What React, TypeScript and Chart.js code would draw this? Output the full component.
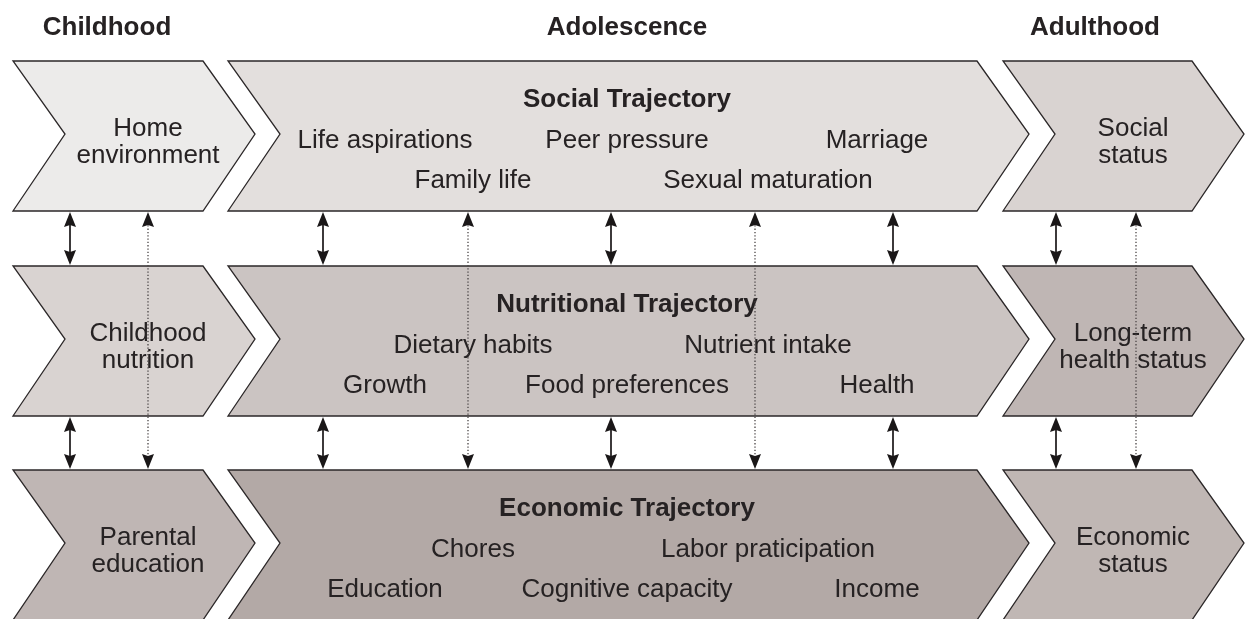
import React, { useEffect, useRef } from "react";
import { Chart, registerables } from "chart.js";

Chart.register(...registerables);

// ---- content ----
const stages = ["Childhood", "Adolescence", "Adulthood"];
const trajectories = ["Social Trajectory", "Nutritional Trajectory", "Economic Trajectory"];
const childhoodLabels = [
  ["Home", "environment"],
  ["Childhood", "nutrition"],
  ["Parental", "education"],
];
const adulthoodLabels = [
  ["Social", "status"],
  ["Long-term", "health status"],
  ["Economic", "status"],
];
const socialFactorsA = ["Life aspirations", "Peer pressure", "Marriage"];
const socialFactorsB = ["Family life", "Sexual maturation"];
const nutritionFactorsA = ["Dietary habits", "Nutrient intake"];
const nutritionFactorsB = ["Growth", "Food preferences", "Health"];
const economicFactorsA = ["Chores", "Labor praticipation"];
const economicFactorsB = ["Education", "Cognitive capacity", "Income"];

// ---- layout (diagram coordinates, mapped through the chart scales) ----
const W = 1245;
const H = 619;
const stageCenterX = [107, 627, 1095];
const headerBaseline = 35;
const colLeft = [13, 228, 1003];
const colRight = [203, 977, 1192];
const chevronDepth = 52;
const rowTop = [61, 266, 470];
const rowHeight = 150;
const tipOffset = 73;
const sideLabelX = [148, 0, 1133];
const sideLine1 = 75;
const sideLine2 = 102;
const titleOffset = 46;
const lineAOffset = 87;
const lineBOffset = 127;
const threeItemX = [385, 627, 877];
const twoItemX = [473, 768];
const solidArrowX = [70, 323, 611, 893, 1056];
const dottedArrowX = [148, 468, 755, 1136];

const fills = [
  ["#ecebea", "#e3dfdd", "#d9d3d1"],
  ["#d9d3d1", "#cbc4c2", "#bfb6b4"],
  ["#bfb6b4", "#b3a9a6", "#c0b7b4"],
];
const FONT = "'Liberation Sans', Arial, Helvetica, sans-serif";
const TEXT = "#262223";

const diagramPlugin = {
  id: "diagram",
  afterDatasetsDraw(chart: any) {
    const ctx: CanvasRenderingContext2D = chart.ctx;
    const xs = chart.scales.x;
    const ys = chart.scales.y;
    const px = (v: number) => xs.getPixelForValue(v);
    const py = (v: number) => ys.getPixelForValue(v);

    ctx.save();
    // chevrons
    for (let r = 0; r < 3; r++) {
      for (let c = 0; c < 3; c++) {
        const t = rowTop[r];
        const b = t + rowHeight;
        const m = t + tipOffset;
        const l = colLeft[c];
        const rt = colRight[c];
        ctx.beginPath();
        ctx.moveTo(px(l), py(t));
        ctx.lineTo(px(rt), py(t));
        ctx.lineTo(px(rt + chevronDepth), py(m));
        ctx.lineTo(px(rt), py(b));
        ctx.lineTo(px(l), py(b));
        ctx.lineTo(px(l + chevronDepth), py(m));
        ctx.closePath();
        ctx.fillStyle = fills[r][c];
        ctx.fill();
        ctx.lineWidth = 1.3;
        ctx.strokeStyle = "#2b2728";
        ctx.lineJoin = "miter";
        ctx.stroke();
      }
    }

    // headers
    ctx.fillStyle = TEXT;
    ctx.textAlign = "center";
    ctx.textBaseline = "alphabetic";
    ctx.font = `bold 26px ${FONT}`;
    stages.forEach((s, i) => ctx.fillText(s, px(stageCenterX[i]), py(headerBaseline)));

    // trajectory titles
    trajectories.forEach((s, r) => ctx.fillText(s, px(stageCenterX[1]), py(rowTop[r] + titleOffset)));

    ctx.font = `26px ${FONT}`;
    // side labels
    for (let r = 0; r < 3; r++) {
      const t = rowTop[r];
      ctx.fillText(childhoodLabels[r][0], px(sideLabelX[0]), py(t + sideLine1));
      ctx.fillText(childhoodLabels[r][1], px(sideLabelX[0]), py(t + sideLine2));
      ctx.fillText(adulthoodLabels[r][0], px(sideLabelX[2]), py(t + sideLine1));
      ctx.fillText(adulthoodLabels[r][1], px(sideLabelX[2]), py(t + sideLine2));
    }

    // factor lines
    const lines: [string[], number, number][] = [
      [socialFactorsA, 0, lineAOffset],
      [socialFactorsB, 0, lineBOffset],
      [nutritionFactorsA, 1, lineAOffset],
      [nutritionFactorsB, 1, lineBOffset],
      [economicFactorsA, 2, lineAOffset],
      [economicFactorsB, 2, lineBOffset],
    ];
    lines.forEach(([items, r, off]) => {
      const xsPos = items.length === 3 ? threeItemX : twoItemX;
      items.forEach((s, i) => ctx.fillText(s, px(xsPos[i]), py(rowTop[r] + off)));
    });

    // arrows
    const head = (x: number, tipY: number, dir: number) => {
      const hl = 15;
      const hw = 6;
      ctx.beginPath();
      ctx.moveTo(px(x), py(tipY));
      ctx.lineTo(px(x - hw), py(tipY + dir * hl));
      ctx.lineTo(px(x), py(tipY + dir * (hl - 2)));
      ctx.lineTo(px(x + hw), py(tipY + dir * hl));
      ctx.closePath();
      ctx.fillStyle = "#1a1718";
      ctx.fill();
    };
    // solid double arrows in the gaps
    for (let g = 0; g < 2; g++) {
      const y1 = rowTop[g] + rowHeight + 1;
      const y2 = rowTop[g + 1] - 1;
      solidArrowX.forEach((x) => {
        ctx.beginPath();
        ctx.moveTo(px(x), py(y1 + 8));
        ctx.lineTo(px(x), py(y2 - 8));
        ctx.lineWidth = 1.7;
        ctx.strokeStyle = "#1a1718";
        ctx.setLineDash([]);
        ctx.stroke();
        head(x, y1, 1);
        head(x, y2, -1);
      });
    }
    // dotted arrows from top row to bottom row
    dottedArrowX.forEach((x) => {
      const y1 = rowTop[0] + rowHeight + 1;
      const y2 = rowTop[2] - 1;
      ctx.beginPath();
      ctx.moveTo(px(x), py(y1 + 10));
      ctx.lineTo(px(x), py(y2 - 10));
      ctx.lineWidth = 1.3;
      ctx.strokeStyle = "#4a4546";
      ctx.setLineDash([1.3, 2]);
      ctx.stroke();
      ctx.setLineDash([]);
      head(x, y1, 1);
      head(x, y2, -1);
    });
    ctx.restore();
  },
};

export default function App() {
  const ref = useRef<HTMLCanvasElement | null>(null);
  useEffect(() => {
    if (!ref.current) return;
    const chart = new Chart(ref.current, {
      type: "scatter",
      data: { datasets: [{ data: [], pointRadius: 0 }] },
      options: {
        animation: false,
        responsive: false,
        events: [],
        layout: { padding: 0, autoPadding: false },
        plugins: { legend: { display: false }, tooltip: { enabled: false } },
        scales: {
          x: { type: "linear", min: 0, max: W, display: false },
          y: { type: "linear", min: 0, max: H, reverse: true, display: false },
        },
      },
      plugins: [diagramPlugin],
    } as any);
    return () => chart.destroy();
  }, []);
  return (
    <div style={{ position: "absolute", left: 0, top: 0, width: W, height: H, background: "#fff" }}>
      <canvas ref={ref} width={W} height={H} style={{ display: "block" }} />
    </div>
  );
}
